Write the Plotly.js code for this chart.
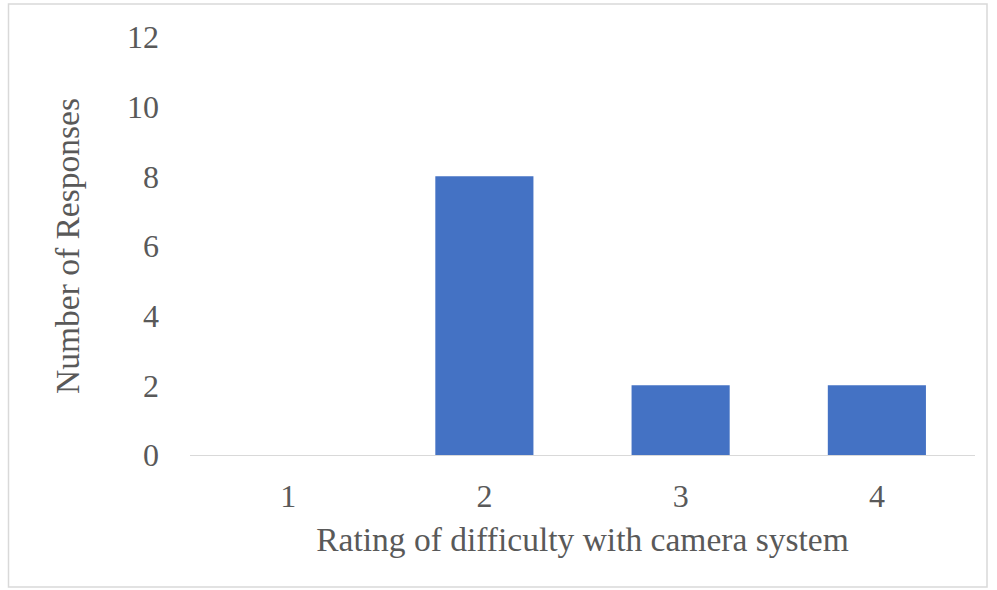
<!DOCTYPE html>
<html>
<head>
<meta charset="utf-8">
<script src="https://cdn.plot.ly/plotly-3.0.1.min.js"></script>
<style>html,body{margin:0;padding:0;background:#fff;}#chart{width:997px;height:590px;}</style>
</head>
<body>
<div id="chart"></div>
<script>
const categories = ["1", "2", "3", "4"];
const responses = [0, 8, 2, 2];
const yTicks = [0, 2, 4, 6, 8, 10, 12];

const W = 997, H = 590;
const m = {l: 190, r: 22, t: 37, b: 135};
const pw = W - m.l - m.r, ph = H - m.t - m.b;
const px = v => (v - m.l) / pw;
const py = v => (H - m.b - v) / ph;

const font = {family: "Liberation Serif, 'Times New Roman', serif", color: "#595959"};
const fs = 32;
const tfs = 33.5;

Plotly.newPlot("chart", [{
  type: "bar",
  x: categories,
  y: responses,
  marker: {color: "#4472C4"},
  hoverinfo: "none"
}], {
  width: W, height: H,
  margin: m,
  paper_bgcolor: "#fff",
  plot_bgcolor: "#fff",
  bargap: 0.5,
  showlegend: false,
  font: Object.assign({size: fs}, font),
  xaxis: {
    type: "category",
    showgrid: false,
    zeroline: false,
    showline: true,
    linecolor: "#d9d9d9",
    linewidth: 1,
    ticks: "",
    ticklabelstandoff: 13,
    tickfont: Object.assign({size: fs}, font),
    title: {text: "Rating of difficulty with camera system", font: Object.assign({size: tfs}, font), standoff: 14}
  },
  yaxis: {
    range: [0, 12],
    tickvals: yTicks,
    ticktext: yTicks.map(String),
    showgrid: false,
    zeroline: false,
    showline: false,
    ticks: "",
    ticklabelstandoff: 30,
    tickfont: Object.assign({size: fs}, font),
    title: {text: "Number of Responses", font: Object.assign({size: tfs}, font), standoff: 37}
  },
  shapes: [{
    type: "rect", xref: "paper", yref: "paper",
    x0: px(8.5), x1: px(987), y0: py(587), y1: py(4),
    line: {color: "#d9d9d9", width: 1.5},
    layer: "below"
  }]
}, {staticPlot: true});
</script>
</body>
</html>
